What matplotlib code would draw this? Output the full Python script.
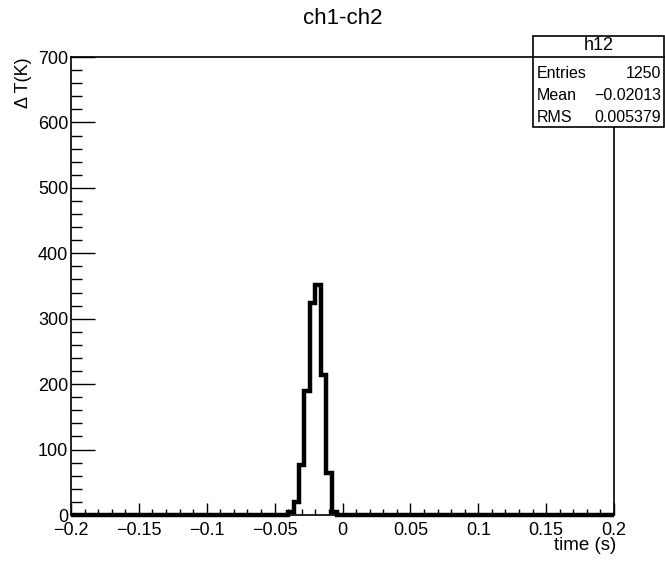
import numpy as np
import matplotlib
matplotlib.use("Agg")
import matplotlib.pyplot as plt
from matplotlib.ticker import MultipleLocator, FuncFormatter

plt.rcParams['font.family'] = ['Liberation Sans', 'DejaVu Sans']

# histogram h12: 100 bins from -0.2 to 0.2, only the peak bins are filled
nbins = 100
xmin, xmax = -0.2, 0.2
first_bin = 40  # bin starting at -0.040
peak_counts = [5, 20, 76, 190, 324, 352, 214, 64, 5]

stats_title = "h12"
stats_names = ["Entries", "Mean", "RMS"]
stats_values = ["1250", "\u22120.02013", "0.005379"]

edges = np.linspace(xmin, xmax, nbins + 1)
counts = np.zeros(nbins)
counts[first_bin:first_bin + len(peak_counts)] = peak_counts

fig = plt.figure(figsize=(6.65, 5.61), dpi=100)
ax = fig.add_axes([71 / 665, 46 / 561, 543 / 665, 458 / 561])

ax.stairs(counts, edges, color='black', linewidth=3.2, baseline=0, clip_on=False, zorder=3)

ax.set_xlim(xmin, xmax)
ax.set_ylim(0, 700)
ax.xaxis.set_major_locator(MultipleLocator(0.05))
ax.xaxis.set_minor_locator(MultipleLocator(0.01))
ax.yaxis.set_major_locator(MultipleLocator(100))
ax.yaxis.set_minor_locator(MultipleLocator(20))

def fmt(v, pos):
    s = f"{round(v, 4):g}"
    if s == "-0":
        s = "0"
    return s.replace('-', '\u2212')

ax.xaxis.set_major_formatter(FuncFormatter(fmt))
ax.yaxis.set_major_formatter(FuncFormatter(fmt))
ax.tick_params(which='both', direction='in', top=False, right=False, labelsize=13, width=1)
ax.tick_params(axis='x', which='major', length=9, pad=5)
ax.tick_params(axis='x', which='minor', length=4.5)
ax.tick_params(axis='y', which='major', length=17, pad=2)
ax.tick_params(axis='y', which='minor', length=8)
for s in ax.spines.values():
    s.set_linewidth(1.2)

fig.text(343 / 665, 1 - 18 / 561, "ch1-ch2", ha='center', va='center', fontsize=16)
fig.text(616 / 665, 1 - 546 / 561, "time (s)", ha='right', va='center', fontsize=13.5)
fig.text(23 / 665, 1 - 57 / 561, "\u0394 T(K)", ha='center', va='top', rotation=90, fontsize=13)

# stats box
bx0, bx1 = 533 / 665, 664 / 665
by0, by1 = 1 - 127 / 561, 1 - 36 / 561
ysep = 1 - 57 / 561
fig.patches.append(plt.Rectangle((bx0, by0), bx1 - bx0, by1 - by0, transform=fig.transFigure,
                                 facecolor='white', edgecolor='black', linewidth=1.2, zorder=5))
fig.lines.append(plt.Line2D([bx0, bx1], [ysep, ysep], transform=fig.transFigure,
                            color='black', linewidth=1.2, zorder=6))
fig.text((bx0 + bx1) / 2, 1 - 46 / 561, stats_title, ha='center', va='center', fontsize=13, zorder=7)
rows_y = [73, 96, 118]
for name, val, yy in zip(stats_names, stats_values, rows_y):
    fig.text(537 / 665, 1 - yy / 561, name, ha='left', va='center', fontsize=11.5, zorder=7)
    fig.text(661 / 665, 1 - yy / 561, val, ha='right', va='center', fontsize=11.5, zorder=7)

fig.savefig("out.png", dpi=100)
